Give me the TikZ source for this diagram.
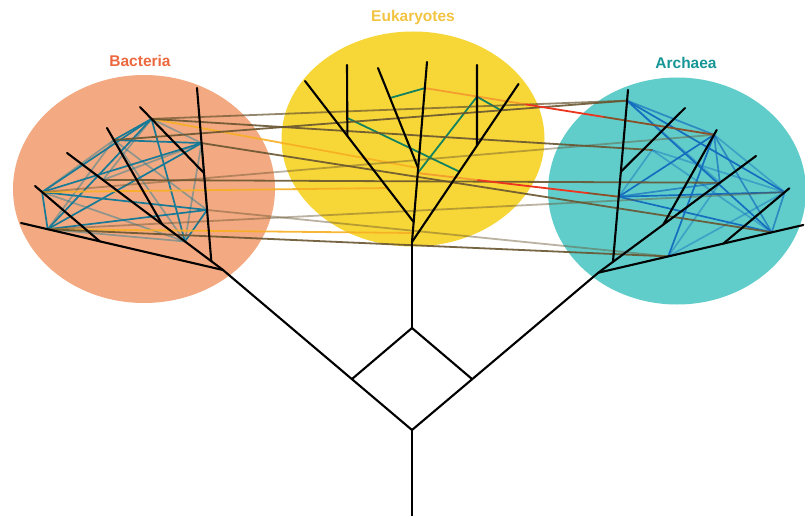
\documentclass[tikz,border=0pt]{standalone}
\usepackage{fontspec}
\setmainfont{Liberation Sans}
\usetikzlibrary{calc,shapes.geometric}

\definecolor{bactfill}{RGB}{243,170,130}
\definecolor{eukfill}{RGB}{247,215,55}
\definecolor{archfill}{RGB}{96,205,203}
\definecolor{bacttext}{RGB}{236,104,62}
\definecolor{euktext}{RGB}{243,196,66}
\definecolor{archtext}{RGB}{22,150,150}
\definecolor{bactnet}{RGB}{24,122,150}
\definecolor{archnet}{RGB}{22,110,190}
\definecolor{euknet}{RGB}{20,130,95}
\definecolor{xferolive}{RGB}{105,85,48}
\definecolor{xferyellow}{RGB}{247,175,35}
\definecolor{xferred}{RGB}{236,52,30}
\definecolor{xferbrown}{RGB}{140,80,40}

\begin{document}
\begin{tikzpicture}[x=1pt,y=-1pt,line cap=round,line join=round,
    domainbg/.style={ellipse,inner sep=0pt},
    domtitle/.style={font=\bfseries\fontsize{15.5}{18}\selectfont},
    tree/.style={draw=black,line width=2.1pt},
    bnet/.style={draw=bactnet,line width=1.7pt},
    anet/.style={draw=archnet,line width=1.7pt},
    enet/.style={draw=euknet,line width=1.8pt},
    xfer/.style={draw=xferolive,line width=1.8pt,opacity=.9},
    faintop/.style={opacity=.45},
    midop/.style={opacity=.7}]
    \useasboundingbox[fill=white] (0,0) rectangle (805,516);

    \node[domainbg,fill=bactfill,minimum width=262pt,minimum height=228pt] (bacteria) at (144,189) {};
    \node[domainbg,fill=eukfill,minimum width=263pt,minimum height=215pt] (eukaryotes) at (413,139) {};
    \node[domainbg,fill=archfill,minimum width=258pt,minimum height=227pt] (archaea) at (677,191) {};
    \node[domtitle,text=bacttext] (bactlabel) at (140,61) {Bacteria};
    \node[domtitle,text=euktext] (euklabel) at (413,17) {Eukaryotes};
    \node[domtitle,text=archtext] (archlabel) at (686,63) {Archaea};

    \coordinate (root) at (412,516);
    \coordinate (dB) at (412,430);
    \coordinate (dL) at (352,379);
    \coordinate (dR) at (472,379);
    \coordinate (dT) at (412,328);

    \coordinate (bRoot) at (223,270);
    \coordinate (bA) at (21,223);
    \coordinate (bB) at (67,153);
    \coordinate (bC) at (197,88);
    \coordinate (bAj) at ($(bRoot)!.61!(bA)$);
    \coordinate (bAt) at (35,186);
    \coordinate (bBj) at ($(bRoot)!.39!(bB)$);
    \coordinate (bBt) at (107,128);
    \coordinate (bCj) at ($(bRoot)!.075!(bB)$);
    \coordinate (bCsj) at ($(bCj)!.509!(bC)$);
    \coordinate (bCt) at (140,107);
    \coordinate (b1) at ($(bCsj)!.82!(bCt)$);
    \coordinate (b2) at ($(bBj)!.875!(bBt)$);
    \coordinate (b3) at ($(bCj)!.682!(bC)$);
    \coordinate (b4) at ($(bAj)!.89!(bAt)$);
    \coordinate (b5) at ($(bRoot)!.868!(bA)$);
    \coordinate (b6) at ($(bCj)!.296!(bC)$);
    \coordinate (b7) at ($(bRoot)!.244!(bB)$);
    \coordinate (b8) at ($(bRoot)!.77!(bB)$);

    \coordinate (eJ1) at (412,242);
    \coordinate (eTop) at (427,62);
    \coordinate (eR) at (518.5,84);
    \coordinate (eRj) at ($(eJ1)!.61!(eR)$);
    \coordinate (eRv) at (477,65);
    \coordinate (eJ2) at ($(eJ1)!.111!(eTop)$);
    \coordinate (eL) at (305,81);
    \coordinate (eLj) at ($(eJ2)!.61!(eL)$);
    \coordinate (eLv) at (347,65);
    \coordinate (eJ3) at ($(eJ1)!.411!(eTop)$);
    \coordinate (eM) at (378,68);
    \coordinate (e1) at ($(eJ3)!.7!(eM)$);
    \coordinate (e2) at ($(eJ1)!.855!(eTop)$);
    \coordinate (e3) at ($(eLj)!.254!(eLv)$);
    \coordinate (e4) at ($(eJ1)!.445!(eR)$);
    \coordinate (e5) at ($(eJ1)!.383!(eTop)$);
    \coordinate (e6) at ($(eRj)!.607!(eRv)$);
    \coordinate (e7) at ($(eJ1)!.834!(eR)$);
    \coordinate (e8) at ($(eJ2)!.241!(eL)$);
    \coordinate (e9) at ($(eJ1)!.05!(eTop)$);

    \coordinate (aRoot) at (598.3,272.7);
    \coordinate (aT) at (756,156);
    \coordinate (aBase) at (803.3,225);
    \coordinate (aVj) at ($(aRoot)!.093!(aT)$);
    \coordinate (aV) at (628,90);
    \coordinate (aV2j) at ($(aVj)!.524!(aV)$);
    \coordinate (aV2) at (685,108);
    \coordinate (aTj) at ($(aRoot)!.412!(aT)$);
    \coordinate (aT2) at (716.7,130);
    \coordinate (aBj) at ($(aRoot)!.61!(aBase)$);
    \coordinate (aB2) at (789.3,188.3);
    \coordinate (a1) at ($(aVj)!.938!(aV)$);
    \coordinate (a2) at ($(aTj)!.95!(aT2)$);
    \coordinate (a3) at ($(aVj)!.379!(aV)$);
    \coordinate (a4) at ($(aBj)!.93!(aB2)$);
    \coordinate (a5) at ($(aRoot)!.846!(aBase)$);
    \coordinate (a6) at ($(aRoot)!.341!(aBase)$);
    \coordinate (a7) at ($(aRoot)!.771!(aT)$);
    \coordinate (a8) at (652,150);

    \coordinate (r1a) at ($(e2)!.35!(a2)$);
    \coordinate (r1b) at ($(e2)!.62!(a2)$);
    \coordinate (r2a) at ($(e5)!.3!(a3)$);
    \coordinate (r2b) at ($(e5)!.85!(a3)$);

    \path[bnet]
    (b1) edge (b2) (b1) edge (b4) (b1) edge (b5) (b1) edge (b7)
    (b2) edge (b3) (b3) edge (b4) (b3) edge (b5) (b4) edge (b5)
    (b4) edge (b6) (b5) edge (b6) (b6) edge (b7)
    (b1) edge[faintop] (b3) (b2) edge[faintop] (b5) (b2) edge[faintop] (b7)
    (b2) edge[faintop] (b6) (b3) edge[faintop] (b7) (b3) edge[midop] (b6)
    (b4) edge[faintop] (b7) (b5) edge[faintop] (b7) (b8) edge[faintop] (b1)
    (b8) edge[faintop] (b3) (b2) edge[faintop] (b4);

    \path[anet]
    (a1) edge (a4) (a1) edge (a5) (a2) edge (a3) (a2) edge (a6)
    (a3) edge (a4) (a3) edge (a5)
    (a1) edge[midop] (a2) (a2) edge[midop] (a5) (a2) edge[faintop] (a4)
    (a2) edge[midop] (a7) (a3) edge[midop] (a7) (a4) edge[midop] (a5)
    (a1) edge[faintop] (a7) (a6) edge[faintop] (a7) (a8) edge[faintop] (a4)
    (a8) edge[faintop] (a5) (a8) edge[faintop] (a3) (a6) edge[faintop] (a4);

    \path[enet]
    (e1) edge (e2) (e3) edge (e4) (e5) edge (e6) (e6) edge (e7);

    \path[draw=xferyellow,line width=1.8pt,opacity=.9]
    (b1) edge (eJ3) (b4) edge (e8) (b5) edge (e9);

    \path[xfer]
    (b1) edge[midop] (a1) (b2) edge (a1) (b1) edge (a8)
    (b4) edge[faintop] (a2) (b8) edge (a7) (b3) edge (a5)
    (b5) edge[faintop] (a4) (b6) edge[faintop] (a6) (b5) edge (a6);

    \draw[draw=xferred,line width=1.8pt,opacity=.35] (e2) -- (r1a);
    \draw[draw=xferred,line width=1.8pt] (r1a) -- (r1b);
    \draw[draw=xferbrown,line width=1.8pt] (r1b) -- (a2);
    \draw[draw=xferred,line width=1.8pt,opacity=.35] (e5) -- (r2a);
    \draw[draw=xferred,line width=1.8pt] (r2a) -- (r2b);
    \draw[draw=xferbrown,line width=1.8pt] (r2b) -- (a3);

    \path[tree]
    (root) edge (dB) (dB) edge (bRoot) (dB) edge (aRoot)
    (dL) edge (dT) (dR) edge (dT) (dT) edge (eJ1)
    (bRoot) edge (bA) (bAj) edge (bAt) (bRoot) edge (bB)
    (bBj) edge (bBt) (bCj) edge (bC) (bCsj) edge (bCt)
    (eJ1) edge (eTop) (eJ1) edge (eR) (eRj) edge (eRv)
    (eJ2) edge (eL) (eLj) edge (eLv) (eJ3) edge (eM)
    (aRoot) edge (aT) (aRoot) edge (aBase) (aVj) edge (aV)
    (aV2j) edge (aV2) (aTj) edge (aT2) (aBj) edge (aB2);
\end{tikzpicture}
\end{document}
